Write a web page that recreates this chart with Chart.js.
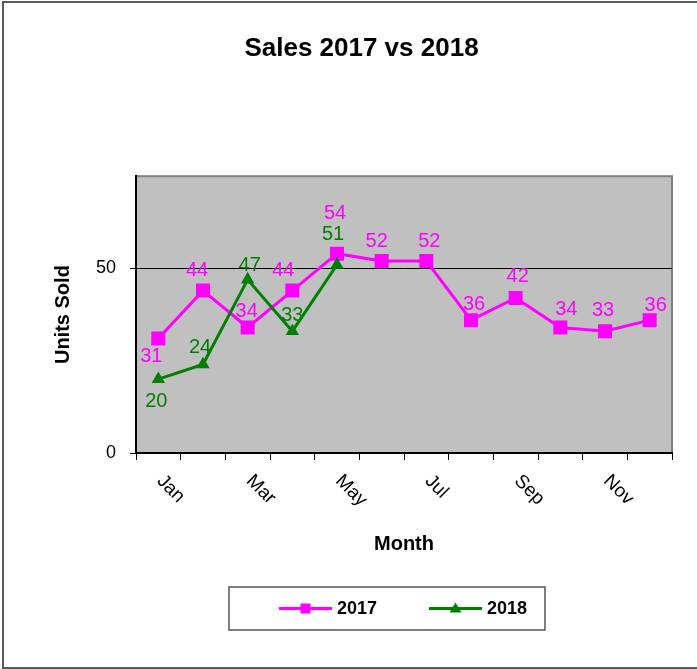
<!DOCTYPE html>
<html>
<head>
<meta charset="utf-8">
<title>Sales 2017 vs 2018</title>
<script src="https://cdn.jsdelivr.net/npm/chart.js"></script>
<style>
  html, body { margin: 0; padding: 0; background: #fff; overflow: hidden; }
  #page { position: relative; width: 697px; height: 669px; overflow: hidden; }
  #wrap { position: absolute; left: 0; top: 0; width: 716px; height: 669px; }
  #frame { position: absolute; left: 2px; top: 1px; width: 740px; height: 664px;
           border-top: 2px solid #5a5a5a; border-left: 2px solid #5a5a5a; border-bottom: 2px solid #5a5a5a;
           pointer-events: none; }
</style>
</head>
<body>
<div id="page">
  <div id="wrap"><canvas id="grafico" width="716" height="669"></canvas></div>
  <div id="frame"></div>
</div>
<script>
// ─── DADOS ───
var MONTHS = ['Jan','Feb','Mar','Apr','May','Jun','Jul','Aug','Sep','Oct','Nov','Dec'];
var SALES_2017 = [31, 44, 34, 44, 54, 52, 52, 36, 42, 34, 33, 36];
var SALES_2018 = [20, 24, 47, 33, 51, null, null, null, null, null, null, null];
var Y_TICKS = [0, 50];
var Y_MAX = 75;

// ─── ESTILO ───
var FONT = "'Liberation Sans', Arial, sans-serif";
var MAGENTA = '#FF00FF';
var GREEN = '#008000';
// deslocamento (dx, dy) de cada rótulo em relação ao ponto
var OFFSETS_2017 = [[-7,18],[-6,-20],[-1,-16],[-9,-20],[-2,-40],[-5,-20],[3,-20],[3,-16],[2,-22],[6,-18],[-2,-21],[6,-15]];
var OFFSETS_2018 = [[-2,22],[-3,-17],[2,-14],[0,-16],[-4,-30]];

// fundo cinza e moldura da área de plotagem
var plotBg = {
  id: 'plotBg',
  beforeDraw: function(chart) {
    var a = chart.chartArea, ctx = chart.ctx;
    ctx.save();
    ctx.fillStyle = '#C0C0C0';
    ctx.fillRect(a.left, a.top, a.right - a.left, a.bottom - a.top);
    ctx.strokeStyle = '#808080';
    ctx.lineWidth = 2;
    ctx.strokeRect(a.left, a.top, a.right - a.left, a.bottom - a.top);
    ctx.restore();
  }
};

// meses em diagonal (um sim, um não)
var monthLabels = {
  id: 'monthLabels',
  afterDraw: function(chart) {
    var sx = chart.scales.x, ctx = chart.ctx;
    ctx.save();
    ctx.fillStyle = '#000';
    ctx.font = '19px ' + FONT;
    ctx.textAlign = 'left';
    ctx.textBaseline = 'middle';
    MONTHS.forEach(function(m, i) {
      if (i % 2) return;
      var x = sx.getPixelForValue(i);
      ctx.save();
      ctx.translate(x + 1.5, sx.top + 25);
      ctx.rotate(Math.PI / 4);
      ctx.fillText(m, 0, 0);
      ctx.restore();
    });
    ctx.restore();
  }
};

// rótulos de valor
var valueLabels = {
  id: 'valueLabels',
  afterDatasetsDraw: function(chart) {
    var ctx = chart.ctx;
    ctx.save();
    ctx.font = '20px ' + FONT;
    ctx.textAlign = 'center';
    ctx.textBaseline = 'middle';
    [[0, OFFSETS_2017], [1, OFFSETS_2018]].forEach(function(p) {
      var ds = chart.data.datasets[p[0]];
      var meta = chart.getDatasetMeta(p[0]);
      ctx.fillStyle = ds.borderColor;
      ds.data.forEach(function(v, i) {
        if (v === null) return;
        var pt = meta.data[i];
        var off = p[1][i] || [0, -20];
        ctx.fillText(String(v), pt.x + off[0], pt.y + off[1]);
      });
    });
    ctx.restore();
  }
};

// legenda em caixa, linha com marcador
var LEGEND_BOX = { left: 229, top: 587, width: 316, height: 43 };
var boxLegend = {
  id: 'boxLegend',
  afterDraw: function(chart) {
    var ctx = chart.ctx, b = LEGEND_BOX;
    var cy = b.top + b.height / 2;
    ctx.save();
    ctx.fillStyle = '#fff';
    ctx.fillRect(b.left, b.top, b.width, b.height);
    ctx.strokeStyle = '#555';
    ctx.lineWidth = 1.5;
    ctx.strokeRect(b.left, b.top, b.width, b.height);
    ctx.font = 'bold 18px ' + FONT;
    ctx.textBaseline = 'middle';
    ctx.textAlign = 'left';
    chart.data.datasets.forEach(function(ds, i) {
      var x0 = b.left + 50 + i * 150, x1 = x0 + 53, mx = (x0 + x1) / 2;
      ctx.strokeStyle = ds.borderColor;
      ctx.lineWidth = 3;
      ctx.beginPath(); ctx.moveTo(x0, cy); ctx.lineTo(x1, cy); ctx.stroke();
      ctx.fillStyle = ds.borderColor;
      if (ds.pointStyle === 'rect') {
        ctx.fillRect(mx - 5, cy - 5, 10, 10);
      } else {
        ctx.beginPath();
        ctx.moveTo(mx, cy - 6); ctx.lineTo(mx + 6, cy + 4); ctx.lineTo(mx - 6, cy + 4);
        ctx.closePath(); ctx.fill();
      }
      ctx.fillStyle = '#000';
      ctx.fillText(ds.label, x1 + 5, cy + 1);
    });
    ctx.restore();
  }
};

Chart.defaults.font.family = FONT;
Chart.defaults.color = '#000';

new Chart(document.getElementById('grafico').getContext('2d'), {
  type: 'line',
  data: {
    labels: MONTHS,
    datasets: [
      {
        label: '2017',
        data: SALES_2017,
        borderColor: MAGENTA,
        backgroundColor: MAGENTA,
        borderWidth: 3,
        pointStyle: 'rect',
        pointRadius: 9.9,
        pointBorderWidth: 0,
        tension: 0,
        order: 1
      },
      {
        label: '2018',
        data: SALES_2018,
        borderColor: GREEN,
        backgroundColor: GREEN,
        borderWidth: 3,
        pointStyle: 'triangle',
        pointRadius: 7.7,
        pointBorderWidth: 0,
        tension: 0,
        spanGaps: false,
        order: 0
      }
    ]
  },
  options: {
    responsive: false,
    animation: false,
    devicePixelRatio: 1,
    layout: { padding: { left: 51, right: 44, top: 0, bottom: 113 } },
    plugins: {
      legend: { display: false },
      tooltip: { enabled: false },
      title: {
        display: true,
        text: 'Sales 2017 vs 2018',
        color: '#000',
        font: { size: 26, weight: 'bold' },
        padding: { top: 33, bottom: 112 }
      }
    },
    scales: {
      x: {
        offset: true,
        grid: { offset: true, drawOnChartArea: false, tickLength: 7, tickColor: '#000', lineWidth: 1 },
        border: { color: '#000', width: 2 },
        ticks: { display: false },
        title: { display: true, text: 'Month', color: '#000', font: { size: 20, weight: 'bold' }, padding: 0 },
        afterFit: function(s) { s.height = 103; }
      },
      y: {
        min: 0,
        max: Y_MAX,
        afterBuildTicks: function(s) { s.ticks = Y_TICKS.map(function(v) { return { value: v }; }); },
        grid: {
          color: function(c) { return c.tick && c.tick.value === 50 ? '#000' : 'rgba(0,0,0,0)'; },
          tickColor: '#000',
          tickLength: 6,
          lineWidth: 1
        },
        border: { color: '#000', width: 2 },
        ticks: { color: '#000', font: { size: 18 }, padding: 14 },
        title: { display: true, text: 'Units Sold', color: '#000', font: { size: 20, weight: 'bold' }, padding: 0 },
        afterFit: function(s) { s.width = 85; }
      }
    }
  },
  plugins: [plotBg, valueLabels, monthLabels, boxLegend]
});
</script>
</body>
</html>
